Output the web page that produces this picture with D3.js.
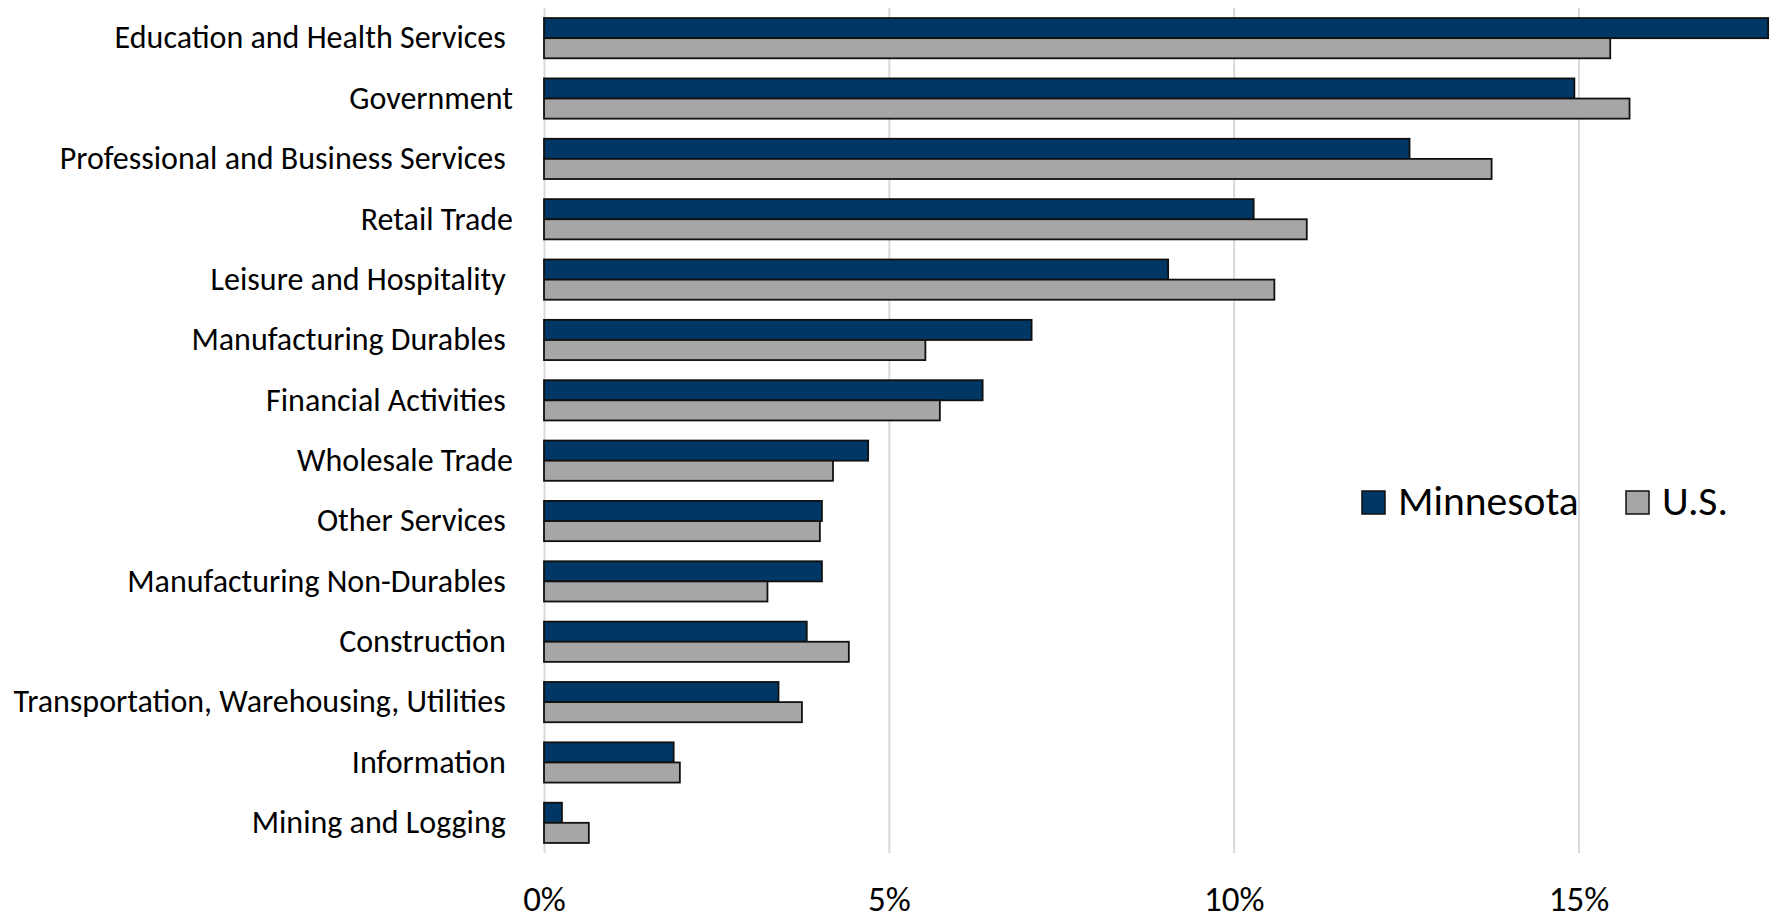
<!DOCTYPE html>
<html>
<head>
<meta charset="utf-8">
<script src="https://cdn.jsdelivr.net/npm/d3@7"></script>
<style>
  body { margin: 0; background: #fff; }
  svg, svg text { font-family: Carlito, "Open Sans", Lato, sans-serif; }
  .cat text { white-space: pre; fill: #000; }
  .domain { display: none; }
</style>
</head>
<body>
<div id="chart"></div>
<script>
// industries, top to bottom (trailing spaces kept as in the original labels)
var industries = [
  "Education and Health Services ",
  "Government",
  "Professional and Business Services ",
  "Retail Trade",
  "Leisure and Hospitality ",
  "Manufacturing Durables ",
  "Financial Activities ",
  "Wholesale Trade",
  "Other Services ",
  "Manufacturing Non-Durables ",
  "Construction ",
  "Transportation, Warehousing, Utilities ",
  "Information ",
  "Mining and Logging "
];
// share of total employment, percent
var minnesota = [17.75, 14.94, 12.55, 10.29, 9.05, 7.07, 6.36, 4.70, 4.03, 4.03, 3.81, 3.40, 1.88, 0.26];
var us        = [15.46, 15.74, 13.74, 11.06, 10.59, 5.53, 5.74, 4.19, 4.00, 3.24, 4.42, 3.74, 1.97, 0.65];
var seriesNames = ["Minnesota", "U.S."];
var xTicks = [0, 5, 10, 15];

var colors = { "Minnesota": "#003764", "U.S.": "#a6a6a6" };

var width = 1771, height = 919;
var plotTop = 8, plotBottom = 853;

var rows = industries.map(function(d, i) {
  return { name: d, values: [
    { series: "Minnesota", value: minnesota[i] },
    { series: "U.S.", value: us[i] }
  ]};
});

var svg = d3.select("#chart").append("svg")
    .attr("width", width)
    .attr("height", height);

var x = d3.scaleLinear()
    .domain([0, 15])
    .range([544, 1578.5]);

var y = d3.scaleBand()
    .domain(industries)
    .range([plotTop, plotBottom])
    .paddingInner(1 / 3)
    .paddingOuter(1 / 6);

var ySub = d3.scaleBand()
    .domain(seriesNames)
    .range([0, y.bandwidth()]);

// vertical gridlines + tick labels
var xAxis = d3.axisBottom(x)
    .tickValues(xTicks)
    .tickSize(-(plotBottom - plotTop))
    .tickPadding(0)
    .tickFormat(function(d) { return d + "%"; });

svg.append("g")
    .attr("transform", "translate(0," + plotBottom + ")")
    .call(xAxis)
    .call(function(g) {
      g.attr("font-family", null);
      g.selectAll(".tick line").attr("stroke", "#d9d9d9").attr("stroke-width", 2);
      g.selectAll(".tick text")
        .attr("fill", "#000")
        .attr("y", 58)
        .attr("dy", null)
        .style("font-size", "35px");
    });

// bars
var groups = svg.append("g").selectAll("g")
    .data(rows)
    .enter().append("g")
    .attr("transform", function(d) { return "translate(0," + y(d.name) + ")"; });

groups.selectAll("rect")
    .data(function(d) { return d.values; })
    .enter().append("rect")
    .attr("x", x(0))
    .attr("y", function(d) { return ySub(d.series); })
    .attr("width", function(d) { return x(d.value) - x(0); })
    .attr("height", ySub.bandwidth())
    .attr("fill", function(d) { return colors[d.series]; })
    .attr("stroke", "#111")
    .attr("stroke-width", 1.8);

// category labels
var yAxis = d3.axisLeft(y)
    .tickSize(0)
    .tickPadding(31);

svg.append("g")
    .classed("cat", true)
    .attr("transform", "translate(" + x(0) + ",0)")
    .call(yAxis)
    .call(function(g) {
      g.attr("font-family", null);
      g.selectAll(".tick text").style("font-size", "32px");
    });

// legend
var legendPos = [1362, 1626];
var legend = svg.append("g").selectAll("g")
    .data(seriesNames)
    .enter().append("g")
    .attr("transform", function(d, i) { return "translate(" + legendPos[i] + ",491)"; });

legend.append("rect")
    .attr("width", 23)
    .attr("height", 23)
    .attr("fill", function(d) { return colors[d]; })
    .attr("stroke", "#111")
    .attr("stroke-width", 1.5);

legend.append("text")
    .attr("x", 36)
    .attr("y", 24)
    .style("font-size", "41.5px")
    .text(function(d) { return d; });
</script>
</body>
</html>
